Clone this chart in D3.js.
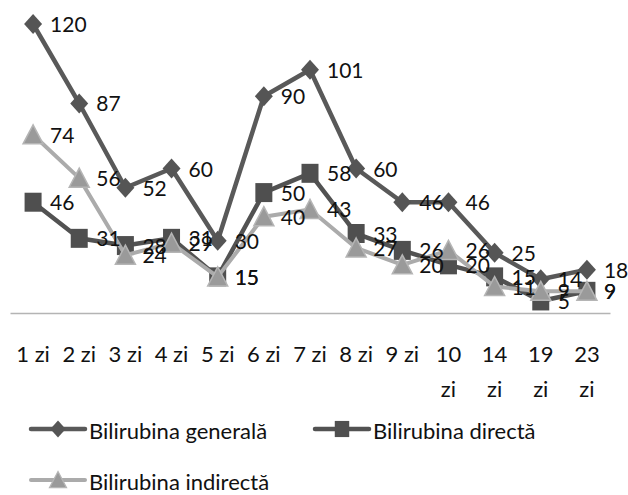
<!DOCTYPE html>
<html>
<head>
<meta charset="utf-8">
<script src="https://cdn.jsdelivr.net/npm/d3@7"></script>
<style>
  html, body { margin: 0; padding: 0; background: #fff; }
  svg { display: block; }
  text { font-family: Lato, "Open Sans", sans-serif; fill: #111; }
</style>
</head>
<body>
<svg id="chart" width="628" height="495"></svg>
<script>
// Bilirubin levels by day of observation
const categories = ["1 zi", "2 zi", "3 zi", "4 zi", "5 zi", "6 zi", "7 zi", "8 zi", "9 zi", "10 zi", "14 zi", "19 zi", "23 zi"];
const generala = [120, 87, 52, 60, 30, 90, 101, 60, 46, 46, 25, 14, 18];
const directa = [46, 31, 28, 31, 15, 50, 58, 33, 26, 20, 15, 5, 9];
const indirecta = [74, 56, 24, 29, 15, 40, 43, 27, 20, 26, 11, 9, 9];
const seriesNames = ["Bilirubina generală", "Bilirubina directă", "Bilirubina indirectă"];

const svg = d3.select("#chart");
const textSize = "22px";
const labelSize = "21px";

const x = d3.scaleBand().domain(categories).range([10, 610]);
const y = d3.scaleLinear().domain([0, 120]).range([313, 24]);
const cx = c => x(c) + x.bandwidth() / 2;

// marker shapes
const diamondPath = "M0,-10L9,0L0,10L-9,0Z";
const squarePath = "M-8.5,-9.5H8.5V9.5H-8.5Z";
const trianglePath = "M0,-10L10,9L-10,9Z";

const series = [
  { name: seriesNames[0], values: generala, line: "#595959", lineWidth: 4.5, marker: diamondPath, fill: "#555555", stroke: "none" },
  { name: seriesNames[1], values: directa, line: "#525252", lineWidth: 4.5, marker: squarePath, fill: "#4f4f4f", stroke: "none" },
  { name: seriesNames[2], values: indirecta, line: "#ababab", lineWidth: 4, marker: trianglePath, fill: "#9a9a9a", stroke: "#b5b5b5" }
];

// category axis
const axis = svg.append("g")
  .attr("transform", `translate(0,${y(0)})`)
  .call(d3.axisBottom(x).tickSize(0).tickSizeOuter(0));
axis.select(".domain").attr("stroke", "#b4b4b4").attr("stroke-width", 1.5);
axis.selectAll(".tick text")
  .attr("y", 49)
  .attr("dy", 0)
  .style("font-family", "Lato, 'Open Sans', sans-serif")
  .style("font-size", textSize)
  .attr("fill", "#111")
  .each(function (d) {
    const t = d3.select(this);
    if (this.getComputedTextLength() > 38) {
      const parts = d.split(" ");
      t.text(null);
      parts.forEach((p, i) => {
        t.append("tspan").attr("x", 0).attr("dy", i === 0 ? 0 : 35).text(p);
      });
    }
  });

const line = d3.line()
  .x((d, i) => cx(categories[i]))
  .y(d => y(d));

const plot = svg.append("g");
series.forEach(s => {
  const g = plot.append("g");
  g.append("path")
    .datum(s.values)
    .attr("d", line)
    .attr("fill", "none")
    .attr("stroke", s.line)
    .attr("stroke-width", s.lineWidth)
    .attr("stroke-linejoin", "round");
  g.selectAll("path.marker")
    .data(s.values)
    .join("path")
    .attr("class", "marker")
    .attr("d", s.marker)
    .attr("transform", (d, i) => `translate(${cx(categories[i])},${y(d)})`)
    .attr("fill", s.fill)
    .attr("stroke", s.stroke)
    .attr("stroke-width", 1.5);
});

// value labels to the right of each point
const labels = svg.append("g");
series.forEach(s => {
  labels.selectAll(null)
    .data(s.values)
    .join("text")
    .attr("x", (d, i) => cx(categories[i]) + 17)
    .attr("y", d => y(d) + 8)
    .style("font-size", labelSize)
    .text(d => d);
});

// legend
const legendItems = [
  { s: series[0], x: 31, y: 429 },
  { s: series[1], x: 315, y: 429 },
  { s: series[2], x: 31, y: 480 }
];
const legend = svg.append("g");
legendItems.forEach(it => {
  const g = legend.append("g").attr("transform", `translate(${it.x},${it.y})`);
  g.append("line")
    .attr("x1", 0).attr("x2", 54)
    .attr("stroke", it.s.line)
    .attr("stroke-width", it.s.lineWidth)
    .attr("stroke-linecap", "round");
  g.append("path")
    .attr("d", it.s.marker)
    .attr("transform", "translate(27,0) scale(0.85)")
    .attr("fill", it.s.fill)
    .attr("stroke", it.s.stroke)
    .attr("stroke-width", 1.5);
  g.append("text")
    .attr("x", 58)
    .attr("y", 10)
    .style("font-size", textSize)
    .text(it.s.name);
});
</script>
</body>
</html>
